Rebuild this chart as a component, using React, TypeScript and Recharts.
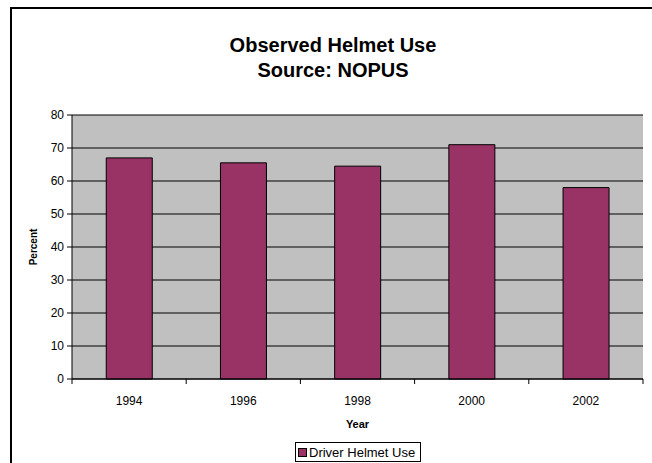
import React from 'react';
import { BarChart, Bar, XAxis, YAxis, CartesianGrid } from 'recharts';

// Observed helmet use, NOPUS
const years = ['1994', '1996', '1998', '2000', '2002'];
const driverHelmetUse = [67, 65.5, 64.5, 71, 58];
const yTicks = [0, 10, 20, 30, 40, 50, 60, 70, 80];

const chartData = years.map((year, i) => ({
  year,
  driver: driverHelmetUse[i],
}));

const FONT = 'Arial, "Liberation Sans", sans-serif';
const BAR_COLOR = '#993366';

// Excel style: tick marks sit between categories, label in the middle
function YearTick(props: any) {
  const { x, y, payload, index, visibleTicksCount } = props;
  const half = payload && payload.offset ? payload.offset : 0;
  const axisY = y - 17;
  const isLast = index === visibleTicksCount - 1;
  return (
    <g>
      <line x1={x - half} x2={x - half} y1={axisY} y2={axisY + 5} stroke="#000" />
      {isLast && <line x1={x + half} x2={x + half} y1={axisY} y2={axisY + 5} stroke="#000" />}
      <text x={x} y={y} dy="0.71em" textAnchor="middle" fill="#000" fontSize={12} fontFamily={FONT}>
        {payload.value}
      </text>
    </g>
  );
}

export default function App() {
  return (
    <div
      style={{
        position: 'absolute',
        left: 0,
        top: 0,
        width: 652,
        height: 463,
        overflow: 'hidden',
        background: '#fff',
        fontFamily: FONT,
      }}
    >
      {/* outer chart border (runs off the right/bottom edge) */}
      <div
        style={{
          position: 'absolute',
          left: 10,
          top: 7,
          width: 680,
          height: 500,
          border: '2px solid #000',
        }}
      />

      <div
        style={{
          position: 'absolute',
          left: 0,
          top: 33,
          width: 666,
          textAlign: 'center',
          fontWeight: 'bold',
          fontSize: 20,
          lineHeight: '25px',
          color: '#000',
        }}
      >
        <div>Observed Helmet Use</div>
        <div>Source: NOPUS</div>
      </div>

      <div style={{ position: 'absolute', left: 0, top: 0 }}>
        <BarChart
          width={652}
          height={463}
          data={chartData}
          margin={{ top: 115, right: 9, left: 32, bottom: 32 }}
          barCategoryGap="30%"
        >
          <CartesianGrid fill="#c0c0c0" stroke="#000" vertical={false} />
          <XAxis
            dataKey="year"
            height={52}
            tickLine={false}
            tickSize={0}
            tickMargin={17}
            interval={0}
            axisLine={{ stroke: '#000' }}
            tick={<YearTick />}
            label={{
              value: 'Year',
              position: 'insideBottom',
              offset: 3,
              style: { fill: '#000', fontSize: 11, fontWeight: 'bold', fontFamily: FONT },
            }}
          />
          <YAxis
            width={40}
            domain={[0, 80]}
            ticks={yTicks}
            interval={0}
            tickSize={5}
            tickMargin={3}
            axisLine={{ stroke: '#000' }}
            tickLine={{ stroke: '#000' }}
            tick={{ fill: '#000', fontSize: 12, fontFamily: FONT }}
            label={{
              value: 'Percent',
              angle: -90,
              position: 'insideLeft',
              offset: 1,
              style: { fill: '#000', fontSize: 10, fontWeight: 'bold', fontFamily: FONT, textAnchor: 'middle' },
            }}
          />
          <YAxis
            yAxisId="right"
            orientation="right"
            width={0}
            domain={[0, 80]}
            allowDataOverflow
            tick={false}
            tickLine={false}
            axisLine={{ stroke: '#808080' }}
          />
          <Bar
            dataKey="driver"
            name="Driver Helmet Use"
            fill={BAR_COLOR}
            stroke="#000"
            strokeWidth={1}
            isAnimationActive={false}
          />
        </BarChart>
      </div>

      {/* legend */}
      <div
        style={{
          position: 'absolute',
          left: 295,
          top: 442,
          width: 124,
          height: 18,
          border: '1px solid #000',
          background: '#fff',
          display: 'flex',
          alignItems: 'center',
          fontSize: 13,
          color: '#000',
          whiteSpace: 'nowrap',
        }}
      >
        <span
          style={{
            display: 'inline-block',
            width: 7,
            height: 7,
            background: BAR_COLOR,
            border: '1px solid #000',
            marginLeft: 2,
            marginRight: 2,
          }}
        />
        Driver Helmet Use
      </div>
    </div>
  );
}
